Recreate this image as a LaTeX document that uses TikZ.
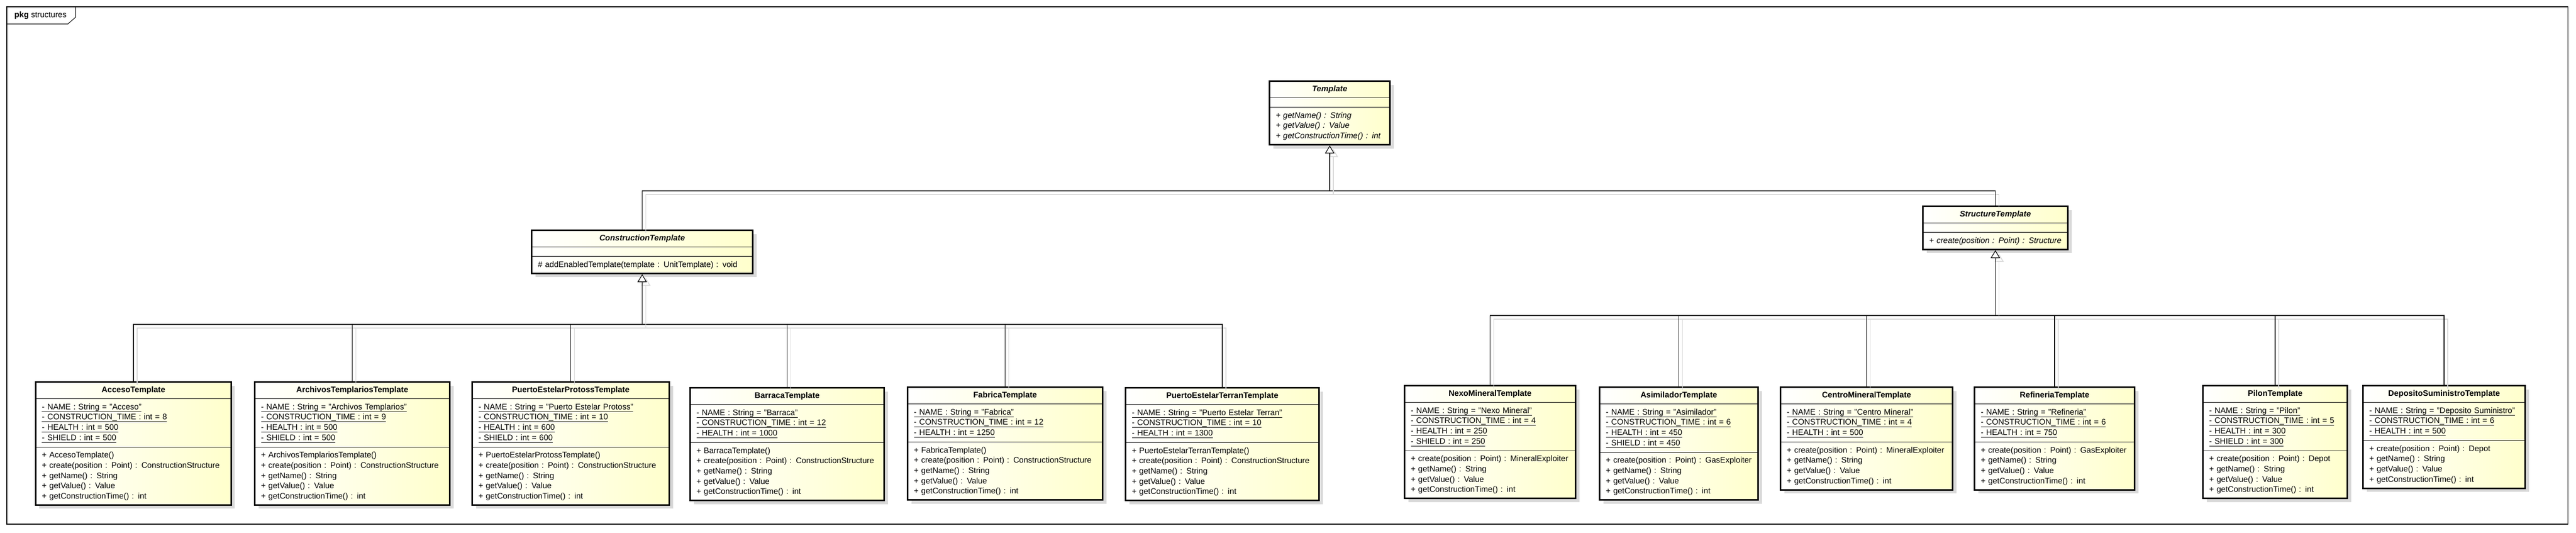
\documentclass[tikz,border=0pt]{standalone}
\usepackage{fontspec}
\setmainfont{Liberation Sans}
\usepackage{xcolor}
\usepackage{tikz}
\usetikzlibrary{shapes.multipart,arrows.meta,shadows}

\definecolor{umlyellow}{RGB}{255,255,204}
\definecolor{umlshadow}{RGB}{217,217,217}

% text size of the diagram
\newcommand{\umlsize}{\fontsize{4.41}{5.58}\selectfont\lineskiplimit=-10pt\relax}
% static attributes are underlined
\newcommand{\staticattr}[1]{\leavevmode\setbox0\hbox{#1}\rlap{\rule[-1.3pt]{\wd0}{0.3pt}}\box0}
% class name in the first part
\newcommand{\classname}[1]{\leavevmode\hfill\textbf{#1}\hfill\null}
% no attributes
\newcommand{\noattr}{\vspace*{-0.06cm}\null}

\begin{document}
\begin{tikzpicture}[
    umlfont/.style={font={\umlsize}},
    splitline/.style={draw=black, line width=0.3pt},
    classbox/.style={rectangle split, rectangle split parts=3,
        rectangle split draw splits=false,
        draw, line width=0.85pt, left color=white, right color=umlyellow,
        general shadow={fill=umlshadow, shadow xshift=0.07cm, shadow yshift=-0.07cm},
        anchor=north west, align=left, inner xsep=0.12cm, inner ysep=0.075cm, umlfont,
        append after command={(\tikzlastnode.text split west) edge[splitline] (\tikzlastnode.text split east)
            (\tikzlastnode.two split west) edge[splitline] (\tikzlastnode.two split east)}},
    link/.style={draw=black, line width=0.34pt,
        preaction={draw=umlshadow, line width=0.45pt, transform canvas={shift={(0.07,-0.07)}}}},
    genarrow/.style={-{Triangle[length=0.15cm, width=0.18cm, fill=white]}}
]
        \useasboundingbox (0,0) rectangle (49.40,-10.21);

        % Package frame
        \draw[line width=0.3pt] (0.13,-0.13) rectangle (49.24,-10.05);
        \draw[line width=0.3pt] (0.13,-0.46) -- (1.30,-0.46) -- (1.45,-0.33) -- (1.45,-0.13);
        \node[umlfont, anchor=west, inner sep=0pt] (pkgname) at (0.27,-0.30) {\textbf{pkg} structures};

        % Template
        \node[classbox, text width=2.07cm] (templ) at (24.33,-1.54)
            {\classname{\textit{Template}}
             \nodepart{two}\noattr
             \nodepart{three}\textit{+ getName() : String}\\
             \textit{+ getValue() : Value}\\
             \textit{+ getConstructionTime() : int}};

        % Abstract templates
        \node[classbox, text width=4.00cm] (constr) at (10.18,-4.40)
            {\classname{\textit{ConstructionTemplate}}
             \nodepart{two}\noattr
             \nodepart{three}\# addEnabledTemplate(template : UnitTemplate) : void};
        \node[classbox, text width=2.54cm] (struct) at (36.86,-3.94)
            {\classname{\textit{StructureTemplate}}
             \nodepart{two}\noattr
             \nodepart{three}\textit{+ create(position : Point) : Structure}};

        % Construction structures
        \node[classbox, text width=3.51cm] (acceso) at (0.67,-7.31)
            {\classname{AccesoTemplate}
             \nodepart{two}\staticattr{- NAME : String = "Acceso"}\\
             \staticattr{- CONSTRUCTION\_TIME : int = 8}\\
             \staticattr{- HEALTH : int = 500}\\
             \staticattr{- SHIELD : int = 500}
             \nodepart{three}+ AccesoTemplate()\\
             + create(position : Point) : ConstructionStructure\\
             + getName() : String\\
             + getValue() : Value\\
             + getConstructionTime() : int};
        \node[classbox, text width=3.50cm] (archivos) at (4.87,-7.31)
            {\classname{ArchivosTemplariosTemplate}
             \nodepart{two}\staticattr{- NAME : String = "Archivos Templarios"}\\
             \staticattr{- CONSTRUCTION\_TIME : int = 9}\\
             \staticattr{- HEALTH : int = 500}\\
             \staticattr{- SHIELD : int = 500}
             \nodepart{three}+ ArchivosTemplariosTemplate()\\
             + create(position : Point) : ConstructionStructure\\
             + getName() : String\\
             + getValue() : Value\\
             + getConstructionTime() : int};
        \node[classbox, text width=3.54cm] (protoss) at (9.04,-7.31)
            {\classname{PuertoEstelarProtossTemplate}
             \nodepart{two}\staticattr{- NAME : String = "Puerto Estelar Protoss"}\\
             \staticattr{- CONSTRUCTION\_TIME : int = 10}\\
             \staticattr{- HEALTH : int = 600}\\
             \staticattr{- SHIELD : int = 600}
             \nodepart{three}+ PuertoEstelarProtossTemplate()\\
             + create(position : Point) : ConstructionStructure\\
             + getName() : String\\
             + getValue() : Value\\
             + getConstructionTime() : int};
        \node[classbox, text width=3.48cm] (barraca) at (13.22,-7.42)
            {\classname{BarracaTemplate}
             \nodepart{two}\staticattr{- NAME : String = "Barraca"}\\
             \staticattr{- CONSTRUCTION\_TIME : int = 12}\\
             \staticattr{- HEALTH : int = 1000}
             \nodepart{three}+ BarracaTemplate()\\
             + create(position : Point) : ConstructionStructure\\
             + getName() : String\\
             + getValue() : Value\\
             + getConstructionTime() : int};
        \node[classbox, text width=3.50cm] (fabrica) at (17.39,-7.41)
            {\classname{FabricaTemplate}
             \nodepart{two}\staticattr{- NAME : String = "Fabrica"}\\
             \staticattr{- CONSTRUCTION\_TIME : int = 12}\\
             \staticattr{- HEALTH : int = 1250}
             \nodepart{three}+ FabricaTemplate()\\
             + create(position : Point) : ConstructionStructure\\
             + getName() : String\\
             + getValue() : Value\\
             + getConstructionTime() : int};
        \node[classbox, text width=3.47cm] (terran) at (21.57,-7.42)
            {\classname{PuertoEstelarTerranTemplate}
             \nodepart{two}\staticattr{- NAME : String = "Puerto Estelar Terran"}\\
             \staticattr{- CONSTRUCTION\_TIME : int = 10}\\
             \staticattr{- HEALTH : int = 1300}
             \nodepart{three}+ PuertoEstelarTerranTemplate()\\
             + create(position : Point) : ConstructionStructure\\
             + getName() : String\\
             + getValue() : Value\\
             + getConstructionTime() : int};

        % Resource structures
        \node[classbox, text width=3.04cm] (nexo) at (26.92,-7.38)
            {\classname{NexoMineralTemplate}
             \nodepart{two}\staticattr{- NAME : String = "Nexo Mineral"}\\
             \staticattr{- CONSTRUCTION\_TIME : int = 4}\\
             \staticattr{- HEALTH : int = 250}\\
             \staticattr{- SHIELD : int = 250}
             \nodepart{three}+ create(position : Point) : MineralExploiter\\
             + getName() : String\\
             + getValue() : Value\\
             + getConstructionTime() : int};
        \node[classbox, text width=2.80cm] (asimilador) at (30.66,-7.41)
            {\classname{AsimiladorTemplate}
             \nodepart{two}\staticattr{- NAME : String = "Asimilador"}\\
             \staticattr{- CONSTRUCTION\_TIME : int = 6}\\
             \staticattr{- HEALTH : int = 450}\\
             \staticattr{- SHIELD : int = 450}
             \nodepart{three}+ create(position : Point) : GasExploiter\\
             + getName() : String\\
             + getValue() : Value\\
             + getConstructionTime() : int};
        \node[classbox, text width=3.06cm] (centro) at (34.13,-7.41)
            {\classname{CentroMineralTemplate}
             \nodepart{two}\staticattr{- NAME : String = "Centro Mineral"}\\
             \staticattr{- CONSTRUCTION\_TIME : int = 4}\\
             \staticattr{- HEALTH : int = 500}
             \nodepart{three}+ create(position : Point) : MineralExploiter\\
             + getName() : String\\
             + getValue() : Value\\
             + getConstructionTime() : int};
        \node[classbox, text width=2.83cm] (refineria) at (37.85,-7.41)
            {\classname{RefineriaTemplate}
             \nodepart{two}\staticattr{- NAME : String = "Refineria"}\\
             \staticattr{- CONSTRUCTION\_TIME : int = 6}\\
             \staticattr{- HEALTH : int = 750}
             \nodepart{three}+ create(position : Point) : GasExploiter\\
             + getName() : String\\
             + getValue() : Value\\
             + getConstructionTime() : int};

        % Supply structures
        \node[classbox, text width=2.53cm] (pilon) at (42.23,-7.38)
            {\classname{PilonTemplate}
             \nodepart{two}\staticattr{- NAME : String = "Pilon"}\\
             \staticattr{- CONSTRUCTION\_TIME : int = 5}\\
             \staticattr{- HEALTH : int = 300}\\
             \staticattr{- SHIELD : int = 300}
             \nodepart{three}+ create(position : Point) : Depot\\
             + getName() : String\\
             + getValue() : Value\\
             + getConstructionTime() : int};
        \node[classbox, text width=2.87cm] (deposito) at (45.30,-7.38)
            {\classname{DepositoSuministroTemplate}
             \nodepart{two}\staticattr{- NAME : String = "Deposito Suministro"}\\
             \staticattr{- CONSTRUCTION\_TIME : int = 6}\\
             \staticattr{- HEALTH : int = 500}
             \nodepart{three}+ create(position : Point) : Depot\\
             + getName() : String\\
             + getValue() : Value\\
             + getConstructionTime() : int};

        % Generalizations
        \coordinate (tbar) at (0,-3.66);
        \coordinate (cbar) at (0,-6.22);
        \coordinate (sbar) at (0,-6.05);

        \draw[link] (constr.north) |- (struct.north |- tbar) -- (struct.north);
        \draw[link, genarrow] (templ.south |- tbar) -- (templ.south);

        \draw[link] (acceso.north) |- (terran.north |- cbar) -- (terran.north);
        \draw[link] (archivos.north) -- (archivos.north |- cbar);
        \draw[link] (protoss.north) -- (protoss.north |- cbar);
        \draw[link] (barraca.north) -- (barraca.north |- cbar);
        \draw[link] (fabrica.north) -- (fabrica.north |- cbar);
        \draw[link, genarrow] (constr.south |- cbar) -- (constr.south);

        \draw[link] (nexo.north) |- (deposito.north |- sbar) -- (deposito.north);
        \draw[link] (asimilador.north) -- (asimilador.north |- sbar);
        \draw[link] (centro.north) -- (centro.north |- sbar);
        \draw[link] (refineria.north) -- (refineria.north |- sbar);
        \draw[link] (pilon.north) -- (pilon.north |- sbar);
        \draw[link, genarrow] (struct.south |- sbar) -- (struct.south);
\end{tikzpicture}
\end{document}
